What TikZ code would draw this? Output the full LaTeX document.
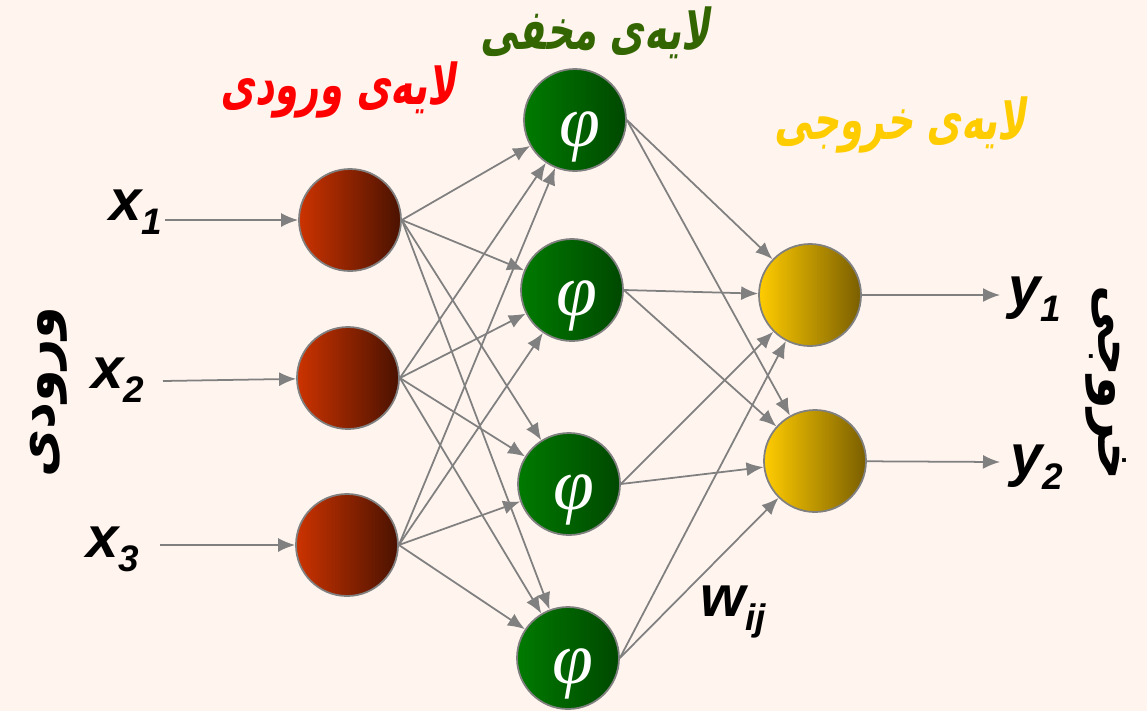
\documentclass[tikz,border=0pt]{standalone}
\usepackage{fontspec}
\setsansfont{Liberation Sans}
\newfontfamily\kurdfont[Script=Arabic,FakeStretch=0.67,FakeSlant=0.15]{DejaVu Sans Bold}
\newfontfamily\sidefont[Script=Arabic]{DejaVu Sans Bold}
\newfontfamily\phifont{Liberation Serif Italic}
\TeXXeTstate=1
\usepackage{tikz}
\usetikzlibrary{arrows.meta}
\definecolor{paper}{HTML}{FFF4EE}
\definecolor{edge}{HTML}{808080}
\definecolor{inL}{HTML}{CC3300}
\definecolor{inR}{HTML}{4A1200}
\definecolor{hidL}{HTML}{007A00}
\definecolor{hidR}{HTML}{004800}
\definecolor{outL}{HTML}{FFCC00}
\definecolor{outR}{HTML}{7A5E00}
\definecolor{hidtxt}{HTML}{336600}
\definecolor{outtxt}{HTML}{FFCC00}
\newcommand{\lowidx}[1]{\raisebox{-8pt}{\fontsize{21}{21}\selectfont #1}}
\tikzset{
  neuron/.style={circle, draw=edge, line width=1pt, minimum size=20.4mm, inner sep=0pt},
  inp/.style={neuron, left color=inL, right color=inR},
  hid/.style={neuron, left color=hidL, right color=hidR},
  outp/.style={neuron, left color=outL, right color=outR},
  phi/.style={text=white, font=\phifont\fontsize{42}{42}\selectfont, inner sep=0pt},
  arr/.style={-{Latex[length=3.4mm,width=2.8mm]}, draw=edge, line width=1pt},
  var/.style={font=\sffamily\bfseries\itshape\fontsize{33}{33}\selectfont, inner sep=0pt},
  layer/.style={font=\kurdfont\fontsize{32}{32}\selectfont, inner sep=0pt},
  side/.style={font=\sidefont\fontsize{30}{30}\selectfont, inner sep=0pt}
}
\begin{document}
\begin{tikzpicture}
\fill[paper] (0,0) rectangle (22.94,-14.22);
\useasboundingbox (0,0) rectangle (22.94,-14.22);
% layer titles
\node[layer, text=red] (tin) at (6.76,-1.8) {\beginR لایەی ورودی\endR};
\node[layer, text=hidtxt] (thid) at (11.9,-0.66) {\beginR لایەی مخفی\endR};
\node[layer, text=outtxt] (tout) at (18.0,-2.5) {\beginR لایەی خروجی\endR};
\node[side, rotate=90] (sin) at (0.98,-7.84) {\beginR ورودی\endR};
\node[side, rotate=-90] (sout) at (22.12,-7.66) {\beginR خروجی\endR};
% neurons
\node[inp] (in1) at (7.0,-4.4) {};
\node[inp] (in2) at (6.96,-7.56) {};
\node[inp] (in3) at (6.94,-10.9) {};
\node[hid] (hid1) at (11.5,-2.4) {};
\node[hid] (hid2) at (11.44,-5.8) {};
\node[hid] (hid3) at (11.38,-9.68) {};
\node[hid] (hid4) at (11.36,-13.16) {};
\node[phi] (phi1) at (11.6,-2.74) {φ};
\node[phi] (phi2) at (11.54,-6.12) {φ};
\node[phi] (phi3) at (11.48,-10.0) {φ};
\node[phi] (phi4) at (11.46,-13.48) {φ};
\node[outp] (out1) at (16.2,-5.9) {};
\node[outp] (out2) at (16.3,-9.22) {};
% inputs and outputs
\coordinate (src1) at (3.3,-4.4);
\coordinate (src2) at (3.26,-7.62);
\coordinate (src3) at (3.2,-10.9);
\coordinate (dst1) at (20.0,-5.9);
\coordinate (dst2) at (20.0,-9.24);
\node[var] (x1) at (2.72,-4.24) {x\lowidx{1}};
\node[var] (x2) at (2.36,-7.6) {x\lowidx{2}};
\node[var] (x3) at (2.26,-10.98) {x\lowidx{3}};
\node[var] (y1) at (20.7,-5.98) {y\lowidx{1}};
\node[var] (y2) at (20.74,-9.34) {y\lowidx{2}};
\node[var] (w) at (14.66,-12.24) {w\lowidx{ij}};
\draw[arr] (src1) -- (in1);
\draw[arr] (src2) -- (in2);
\draw[arr] (src3) -- (in3);
\draw[arr] (out1) -- (dst1);
\draw[arr] (out2) -- (dst2);
% input -> hidden
\draw[arr] (in1.east) -- (hid1);
\draw[arr] (in1.east) -- (hid2);
\draw[arr] (in1.east) -- (hid3);
\draw[arr] (in1.east) -- (hid4);
\draw[arr] (in2.east) -- (hid1);
\draw[arr] (in2.east) -- (hid2);
\draw[arr] (in2.east) -- (hid3);
\draw[arr] (in2.east) -- (hid4);
\draw[arr] (in3.east) -- (hid1);
\draw[arr] (in3.east) -- (hid2);
\draw[arr] (in3.east) -- (hid3);
\draw[arr] (in3.east) -- (hid4);
% hidden -> output
\draw[arr] (hid1.east) -- (out1);
\draw[arr] (hid1.east) -- (out2);
\draw[arr] (hid2.east) -- (out1);
\draw[arr] (hid2.east) -- (out2);
\draw[arr] (hid3.east) -- (out1);
\draw[arr] (hid3.east) -- (out2);
\draw[arr] (hid4.east) -- (out1);
\draw[arr] (hid4.east) -- (out2);
\end{tikzpicture}
\end{document}
